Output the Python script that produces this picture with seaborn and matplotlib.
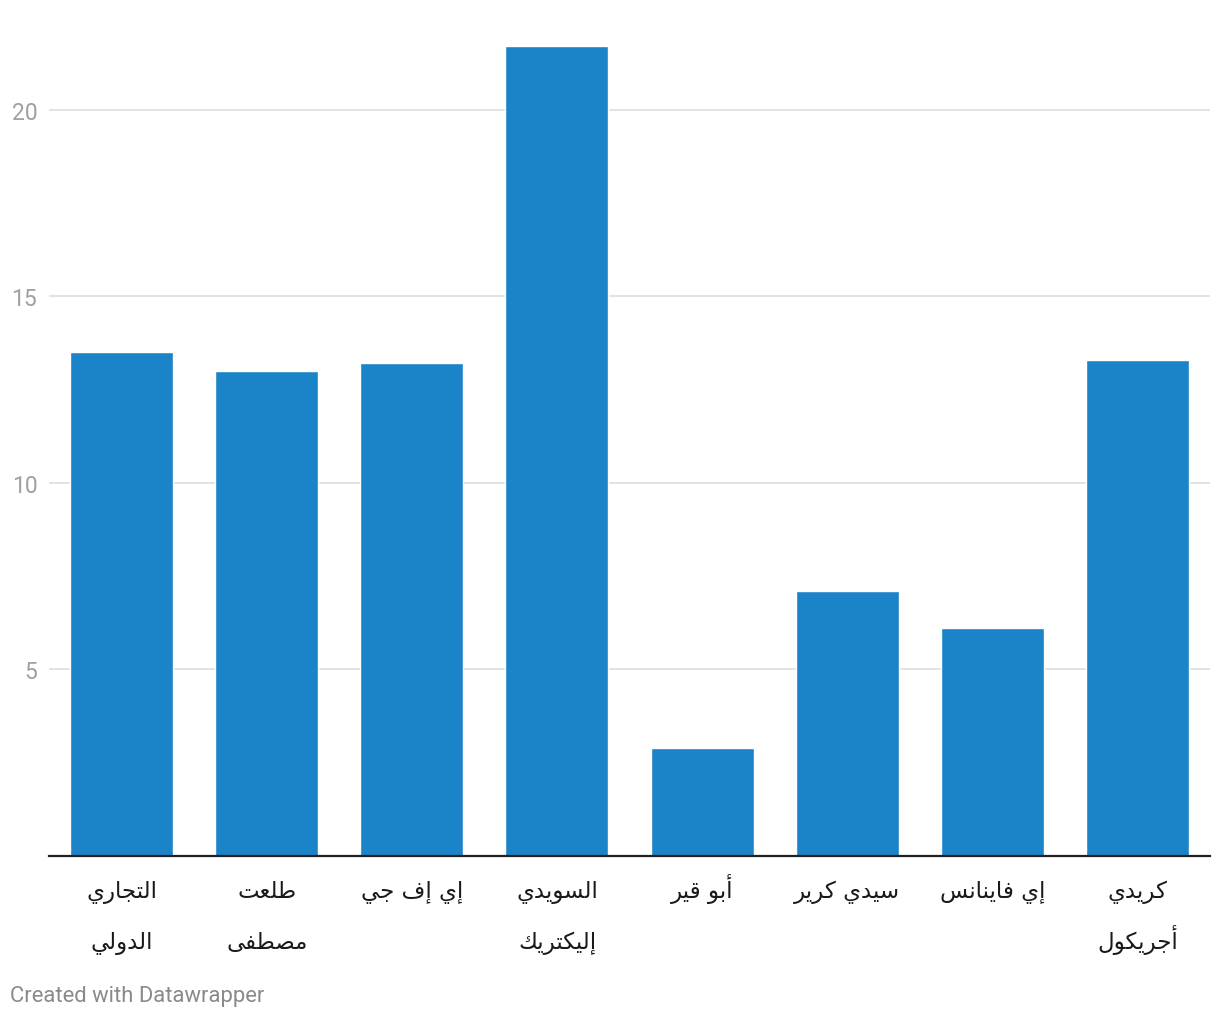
import matplotlib
matplotlib.use("Agg")
import pandas as pd
import matplotlib.pyplot as plt
import seaborn as sns

# company names (logical order, two lines each where the original wraps)
companies = [
    "التجاري\nالدولي",
    "طلعت\nمصطفى",
    "إي إف جي",
    "السويدي\nإليكتريك",
    "أبو قير",
    "سيدي كرير",
    "إي فاينانس",
    "كريدي\nأجريكول",
]
values = [13.5, 13.0, 13.2, 21.7, 2.9, 7.1, 6.1, 13.3]
yticks = [5, 10, 15, 20]

BAR_COLOR = "#1b83c7"

# matplotlib has no arabic shaping, so map letters to presentation forms
# dual-joining letters: iso, fin, ini, med = base, +1, +2, +3
DUAL = {
    "\u0628": 0xFE8F, "\u062A": 0xFE95, "\u062C": 0xFE9D, "\u0633": 0xFEB1,
    "\u0635": 0xFEB9, "\u0637": 0xFEC1, "\u0639": 0xFEC9, "\u0641": 0xFED1,
    "\u0642": 0xFED5, "\u0643": 0xFED9, "\u0644": 0xFEDD, "\u0645": 0xFEE1,
    "\u0646": 0xFEE5, "\u064A": 0xFEF1,
}
# right-joining letters: iso, fin = base, +1
RIGHT = {
    "\u0627": 0xFE8D, "\u0623": 0xFE83, "\u0625": 0xFE87, "\u062F": 0xFEA9,
    "\u0631": 0xFEAD, "\u0648": 0xFEED, "\u0649": 0xFEEF,
}


def shape_line(s):
    out = []
    for i, ch in enumerate(s):
        prev = s[i - 1] if i > 0 else ""
        nxt = s[i + 1] if i + 1 < len(s) else ""
        join_prev = prev in DUAL
        if ch in DUAL:
            join_next = nxt in DUAL or nxt in RIGHT
            if join_prev and join_next:
                out.append(chr(DUAL[ch] + 3))
            elif join_prev:
                out.append(chr(DUAL[ch] + 1))
            elif join_next:
                out.append(chr(DUAL[ch] + 2))
            else:
                out.append(chr(DUAL[ch]))
        elif ch in RIGHT:
            out.append(chr(RIGHT[ch] + (1 if join_prev else 0)))
        else:
            out.append(ch)
    return "".join(out)[::-1]


df = pd.DataFrame({"company": companies, "value": values})

sns.set_theme(style="white")
plt.rcParams["font.family"] = ["Roboto", "DejaVu Sans"]

fig = plt.figure(figsize=(12.2, 10.2), dpi=100)
ax_bottom = 857
ax_h = 821
ax = fig.add_axes([49 / 1220, 1 - ax_bottom / 1020, 1161 / 1220, ax_h / 1020])

sns.barplot(data=df, x="company", y="value", color=BAR_COLOR, saturation=1,
            width=0.71, ax=ax)

ax.set_xlim(-0.5, len(companies) - 0.5)
ax.set_ylim(0, 22)
ax.set_xlabel("")
ax.set_ylabel("")

ax.set_yticks(yticks)
ax.yaxis.grid(True, color="#e3e3e3", linewidth=1.4)
ax.set_axisbelow(True)
ax.tick_params(axis="y", length=0, pad=8.5, labelsize=16.5, labelcolor="#a0a0a0")
ax.set_xticks(range(len(companies)))
ax.set_xticklabels([])
ax.tick_params(axis="x", length=0)

# category labels, one text per line so both lines sit on fixed baselines
baselines = [898, 949]
for i, name in enumerate(companies):
    for k, line in enumerate(name.split("\n")):
        ax.text(i, -(baselines[k] - ax_bottom) / ax_h, shape_line(line),
                transform=ax.get_xaxis_transform(), ha="center", va="baseline",
                fontsize=16.5, color="#1a1a1a", family="DejaVu Sans")

for side in ["top", "right", "left"]:
    ax.spines[side].set_visible(False)
ax.spines["bottom"].set_color("#222222")
ax.spines["bottom"].set_linewidth(1.6)

fig.text(10 / 1220, 1 - 997 / 1020, "Created with Datawrapper", color="#8a8a8a",
         fontsize=15.8, ha="left", va="center")

fig.savefig("out.png", dpi=100)
